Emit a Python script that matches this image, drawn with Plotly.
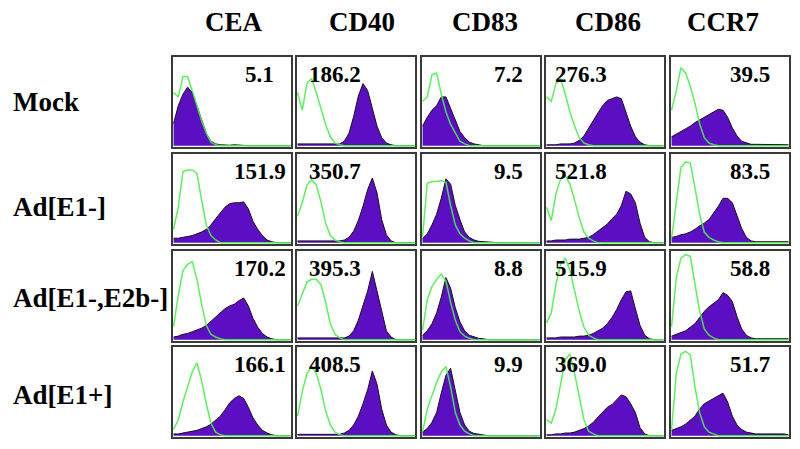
import plotly.graph_objects as go

# Intensity bins (log-scale channel, 0..100) shared by all histograms
bins = [0, 4, 8, 12, 16, 20, 24, 28, 32, 36, 40, 44, 48, 52, 56, 60, 64, 68, 72, 76, 80, 84, 88, 92, 96, 100]

markers = ["CEA", "CD40", "CD83", "CD86", "CCR7"]
groups = ["Mock", "Ad[E1-]", "Ad[E1-,E2b-]", "Ad[E1+]"]

# MFI values shown in each panel (rows = groups, cols = markers)
mfi_mock = ["5.1", "186.2", "7.2", "276.3", "39.5"]
mfi_e1 = ["151.9", "350.7", "9.5", "521.8", "83.5"]
mfi_e1e2b = ["170.2", "395.3", "8.8", "515.9", "58.8"]
mfi_e1plus = ["166.1", "408.5", "9.9", "369.0", "51.7"]

# Isotype control histograms (green)
iso_mock = [
    [60,55,78,78,62,45,28,14,4,1,0,0,0,0,0,0,0,0,0,0,0,0,0,0,0,0],
    [60,40,70,76,60,42,24,10,3,1,0,0,0,0,0,0,0,0,0,0,0,0,0,0,0,0],
    [50,55,80,82,58,38,24,14,5,2,0,0,0,0,0,0,0,0,0,0,0,0,0,0,0,0],
    [55,50,70,75,58,38,22,9,3,1,0,0,0,0,0,0,0,0,0,0,0,0,0,0,0,0],
    [40,62,88,82,67,48,25,9,3,1,0,0,0,0,0,0,0,0,0,0,0,0,0,0,0,0],
]
iso_e1 = [
    [15,40,80,82,82,78,48,20,8,3,0,0,0,0,0,0,0,0,0,0,0,0,0,0,0,0],
    [30,45,65,71,65,46,22,8,3,1,0,0,0,0,0,0,0,0,0,0,0,0,0,0,0,0],
    [7,67,69,69,70,68,42,20,10,5,2,0,0,0,0,0,0,0,0,0,0,0,0,0,0,0],
    [40,25,55,72,76,66,48,28,12,5,2,0,0,0,0,0,0,0,0,0,0,0,0,0,0,0],
    [5,45,85,91,90,62,32,12,6,3,1,0,0,0,0,0,0,0,0,0,0,0,0,0,0,0],
]
iso_e1e2b = [
    [15,50,78,85,88,68,40,16,6,3,1,0,0,0,0,0,0,0,0,0,0,0,0,0,0,0],
    [38,52,65,68,68,62,42,18,6,2,0,0,0,0,0,0,0,0,0,0,0,0,0,0,0,0],
    [11,45,60,68,74,66,42,22,9,4,1.5,0,0,0,0,0,0,0,0,0,0,0,0,0,0,0],
    [19,30,62,85,92,78,55,32,14,5,2,0,0,0,0,0,0,0,0,0,0,0,0,0,0,0],
    [15,70,92,96,94,65,32,12,5,2,0,0,0,0,0,0,0,0,0,0,0,0,0,0,0,0],
]
iso_e1plus = [
    [7,18,38,55,72,82,62,36,14,4,1,0,0,0,0,0,0,0,0,0,0,0,0,0,0,0],
    [22,50,70,78,70,52,28,12,4,1,0,0,0,0,0,0,0,0,0,0,0,0,0,0,0,0],
    [4,30,45,60,72,78,55,26,12,5,2,0,0,0,0,0,0,0,0,0,0,0,0,0,0,0],
    [18,14,30,60,86,92,70,44,18,5,2,0,0,0,0,0,0,0,0,0,0,0,0,0,0,0],
    [7,70,92,95,91,55,26,10,4,2,0,0,0,0,0,0,0,0,0,0,0,0,0,0,0,0],
]

# Stained histograms (purple, filled)
stain_mock = [
    [25,45,58,66,60,44,28,14,5,2,1,0.5,0.5,1,0.5,0,0,0,0,0,0,0,0,0,0,0],
    [2,2,2,2,2,2,2,2,2,2,5,14,33,56,70,62,42,22,9,3,1,0,0,0,0,0],
    [22,32,40,45,55,55,42,28,16,9,4,2,1,0,0,0,0,0,0,0,0,0,0,0,0,0],
    [1,1,1,2,2,2,3,6,11,20,28,37,45,51,53,55,53,38,22,10,4,1,0,0,0,0],
    [10,13,16,19,22,26,29,32,35,38,41,40,32,20,11,5,3,1.5,1.5,1.5,1.5,1.5,1.5,1.5,1.5,1],
]
stain_e1 = [
    [5,5,6,7,8,10,12,15,20,27,34,40,44,45,45,46,38,24,15,8,3,1,0,0,0,0],
    [2,2,2,2,2,2,2,2,2,2,3,6,13,25,41,60,73,56,26,9,2,0,0,0,0,0],
    [5,10,20,32,50,72,66,42,26,12,6,3,1.5,1,1,0,0,0,0,0,0,0,0,0,0,0],
    [2,2,3,3,3,4,4,4,5,6,9,13,16,21,27,32,42,58,55,45,22,6,1,0,0,0],
    [6,7,9,10,12,15,19,22,26,33,41,50,50,45,30,16,6,2,1,1,1,1,1,1,1,1],
]
stain_e1e2b = [
    [3,4,6,7,9,11,13,16,21,26,31,35,38,40,44,47,38,24,14,7,3,1,0,0,0,0],
    [2,2,2,2,2,2,2,2,2,2,2,4,10,22,38,55,77,55,30,10,3,0,0,0,0,0],
    [5,10,18,30,48,70,58,36,20,10,5,3,1.5,1,0,0,0,0,0,0,0,0,0,0,0,0],
    [2,2,2,3,3,3,3,4,4,5,7,10,13,18,25,34,45,54,55,35,16,5,1,0,0,0],
    [4,6,8,10,14,18,25,32,37,41,45,53,50,43,26,12,5,2,1,1,1,1,1,1,1,1],
]
stain_e1plus = [
    [2,2,3,4,5,6,8,10,13,17,22,29,37,42,45,42,32,20,12,6,3,1,0,0,0,0],
    [1.5,1.5,1.5,1.5,1.5,1.5,1.5,1.5,1.5,1.5,3,6,12,22,36,52,73,58,30,12,4,1,0,0,0,0],
    [4,8,15,26,48,68,76,50,26,12,5,2.5,1.5,1,0,0,0,0,0,0,0,0,0,0,0,0],
    [1,1,2,2,3,3,4,6,8,11,15,21,27,32,35,40,46,44,36,26,9,2,0,0,0,0],
    [6,8,10,13,17,22,30,36,39,42,45,48,38,22,12,7,4,3,2,2,2,2,2,2,2,1],
]

iso_rows = [iso_mock, iso_e1, iso_e1e2b, iso_e1plus]
stain_rows = [stain_mock, stain_e1, stain_e1e2b, stain_e1plus]
mfi_rows = [mfi_mock, mfi_e1, mfi_e1e2b, mfi_e1plus]

# The page body has an 8px margin, so the figure is drawn 8px smaller and
# all positions below (measured on the 800x449 page) are shifted by 8px.
OFF = 8
W, H = 800 - OFF, 449 - OFF
col_left = [173, 297, 422, 546, 671]
row_top = [57, 154, 251, 347]
pw, ph = 118, 90
header_x = [234, 362, 485, 608, 723]
row_label_y = [102, 207, 298, 395]
# horizontal centre of the MFI label inside each panel, by column (px from panel left)
num_cx = [86.5, 38, 86.5, 35, 78.5]

PURPLE = "#5b0ec2"
GREEN = "#4cf04c"
SERIF = "Liberation Serif, Times New Roman, serif"


def px(xp):
    return (xp - OFF) / W


def py(yp):
    return 1 - (yp - OFF) / H


fig = go.Figure()
layout_axes = {}
annotations = []

for r in range(4):
    for c in range(5):
        n = r * 5 + c + 1
        sfx = "" if n == 1 else str(n)
        xa, ya = "x" + sfx, "y" + sfx
        fig.add_trace(go.Scatter(
            x=bins, y=stain_rows[r][c], mode="lines", fill="tozeroy",
            fillcolor=PURPLE, line=dict(color="#1a1020", width=1),
            xaxis=xa, yaxis=ya, showlegend=False, hoverinfo="skip"))
        fig.add_trace(go.Scatter(
            x=bins, y=iso_rows[r][c], mode="lines",
            line=dict(color=GREEN, width=1.5), opacity=0.9,
            xaxis=xa, yaxis=ya, showlegend=False, hoverinfo="skip"))
        common = dict(showgrid=False, zeroline=False, showticklabels=False,
                      ticks="", showline=True, mirror=True,
                      linecolor="#3a3a3a", linewidth=2, fixedrange=True)
        layout_axes["xaxis" + sfx] = dict(
            domain=[px(col_left[c]), px(col_left[c] + pw)], range=[-0.5, 100.5],
            anchor=ya, **common)
        layout_axes["yaxis" + sfx] = dict(
            domain=[py(row_top[r] + ph), py(row_top[r])], range=[-1.5, 100],
            anchor=xa, **common)
        annotations.append(dict(
            text="<b>%s</b>" % mfi_rows[r][c], xref=xa + " domain", yref=ya + " domain",
            x=num_cx[c] / pw, y=1 - 17 / ph, xanchor="center", yanchor="middle",
            showarrow=False, font=dict(family=SERIF, size=23, color="black")))

for c, m in enumerate(markers):
    annotations.append(dict(
        text="<b>%s</b>" % m, xref="paper", yref="paper",
        x=px(header_x[c]), y=py(22), xanchor="center", yanchor="middle",
        showarrow=False, font=dict(family=SERIF, size=27, color="black")))

for r, g in enumerate(groups):
    annotations.append(dict(
        text="<b>%s</b>" % g, xref="paper", yref="paper", align="left",
        x=px(11), y=py(row_label_y[r]), xanchor="left", yanchor="middle",
        showarrow=False, font=dict(family=SERIF, size=27, color="black")))

fig.update_layout(
    width=W, height=H, margin=dict(l=0, r=0, t=0, b=0),
    paper_bgcolor="white", plot_bgcolor="white",
    annotations=annotations, **layout_axes)

fig.write_html("out.html", config={"displayModeBar": False})
